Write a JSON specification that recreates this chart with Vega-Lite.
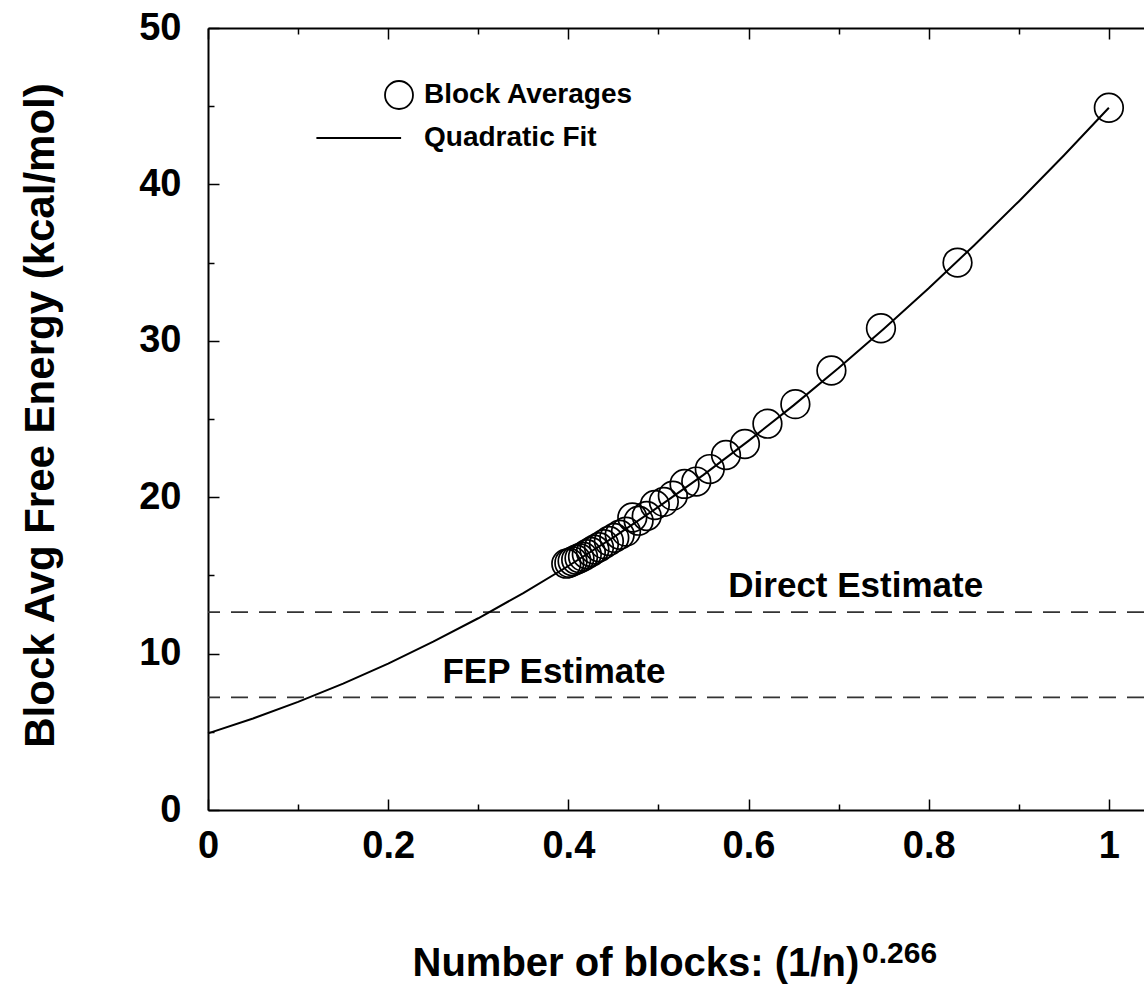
{
  "$schema": "https://vega.github.io/schema/vega-lite/v6.json",
  "width": 936,
  "height": 782,
  "autosize": {"type": "none"},
  "padding": {"left": 208, "top": 28, "right": 0, "bottom": 196},
  "background": "white",
  "config": {"view": {"stroke": null}, "font": "Liberation Sans"},
  "datasets": {
    "estimates": [
      {"name": "Direct Estimate", "y": 12.65},
      {"name": "FEP Estimate", "y": 7.2}
    ],
    "notes": [
      {"text": "Direct Estimate", "x": 0.719, "y": 13.6},
      {"text": "FEP Estimate", "x": 0.384, "y": 8.1}
    ],
    "sup": [
      {"text": "0.266", "x": 0.726, "y": -9.8}
    ],
    "fit": [
      {"x": 0.0, "y": 4.9}, {"x": 0.05, "y": 5.85}, {"x": 0.1, "y": 6.91}, {"x": 0.15, "y": 8.08},
      {"x": 0.2, "y": 9.36}, {"x": 0.25, "y": 10.76}, {"x": 0.3, "y": 12.26}, {"x": 0.35, "y": 13.87},
      {"x": 0.4, "y": 15.6}, {"x": 0.45, "y": 17.43}, {"x": 0.5, "y": 19.38}, {"x": 0.55, "y": 21.43},
      {"x": 0.6, "y": 23.6}, {"x": 0.65, "y": 25.87}, {"x": 0.7, "y": 28.26}, {"x": 0.75, "y": 30.76},
      {"x": 0.8, "y": 33.36}, {"x": 0.85, "y": 36.08}, {"x": 0.9, "y": 38.91}, {"x": 0.95, "y": 41.85},
      {"x": 1.0, "y": 44.9}
    ],
    "blocks": [
      {"x": 1.0, "y": 44.9}, {"x": 0.832, "y": 35.0}, {"x": 0.747, "y": 30.8}, {"x": 0.692, "y": 28.1},
      {"x": 0.652, "y": 25.95}, {"x": 0.621, "y": 24.7}, {"x": 0.596, "y": 23.4}, {"x": 0.575, "y": 22.7},
      {"x": 0.557, "y": 21.8}, {"x": 0.542, "y": 21.0}, {"x": 0.529, "y": 20.85}, {"x": 0.516, "y": 20.1},
      {"x": 0.506, "y": 19.7}, {"x": 0.496, "y": 19.5}, {"x": 0.487, "y": 18.8}, {"x": 0.478, "y": 18.5},
      {"x": 0.471, "y": 18.7}, {"x": 0.464, "y": 17.8}, {"x": 0.457, "y": 17.6}, {"x": 0.451, "y": 17.4},
      {"x": 0.445, "y": 17.2}, {"x": 0.4395, "y": 17.0}, {"x": 0.434, "y": 16.8}, {"x": 0.429, "y": 16.65},
      {"x": 0.425, "y": 16.5}, {"x": 0.4205, "y": 16.35}, {"x": 0.4163, "y": 16.2}, {"x": 0.4124, "y": 16.1},
      {"x": 0.4087, "y": 16.0}, {"x": 0.4047, "y": 15.9}, {"x": 0.4011, "y": 15.8}, {"x": 0.3977, "y": 15.75}
    ]
  },
  "resolve": {"axis": {"x": "independent"}},
  "encoding": {
    "y": {
      "field": "y", "type": "quantitative",
      "scale": {"domain": [0, 50], "nice": false},
      "axis": {
        "grid": false,
        "values": [0, 5, 10, 15, 20, 25, 30, 35, 40, 45, 50],
        "labelExpr": "datum.value % 10 == 0 ? datum.label : ''",
        "labelFont": "Liberation Sans", "labelFontWeight": "bold", "labelFontSize": 38, "labelColor": "black",
        "labelPadding": 38, "labelFlush": false, "labelOverlap": false,
        "domainColor": "black", "domainWidth": 2, "tickColor": "black", "tickWidth": 1.5,
        "tickSize": {"condition": {"test": "datum.value % 10 == 0", "value": -11}, "value": -6},
        "title": "Block Avg Free Energy (kcal/mol)",
        "titleFont": "Liberation Sans", "titleFontWeight": "bold", "titleFontSize": 42, "titleColor": "black",
        "titleAngle": -90, "titleAlign": "center", "titleBaseline": "middle", "titleX": -168, "titleY": 387
      }
    }
  },
  "layer": [
    {
      "data": {"name": "estimates"},
      "mark": {"type": "rule", "strokeDash": [17, 11], "strokeWidth": 1.6, "color": "#333333"}
    },
    {
      "data": {"name": "fit"},
      "mark": {"type": "line", "color": "black", "strokeWidth": 2},
      "encoding": {
        "x": {
          "field": "x", "type": "quantitative",
          "scale": {"domain": [0, 1.039], "nice": false},
          "axis": {
            "orient": "top", "title": null, "labels": false, "grid": false,
            "values": [0, 0.1, 0.2, 0.3, 0.4, 0.5, 0.6, 0.7, 0.8, 0.9, 1.0],
            "domainColor": "black", "domainWidth": 2, "tickColor": "black", "tickWidth": 1.5,
            "tickSize": {"condition": {"test": "round(datum.value*10) % 2 == 0", "value": -11}, "value": -6}
          }
        }
      }
    },
    {
      "data": {"name": "blocks"},
      "mark": {"type": "point", "filled": false, "size": 820, "color": "black", "strokeWidth": 1.7, "opacity": 1},
      "encoding": {
        "x": {
          "field": "x", "type": "quantitative",
          "scale": {"domain": [0, 1.039], "nice": false},
          "axis": {
            "orient": "bottom", "grid": false,
            "values": [0, 0.1, 0.2, 0.3, 0.4, 0.5, 0.6, 0.7, 0.8, 0.9, 1.0],
            "labelExpr": "round(datum.value*10) % 2 == 0 ? format(datum.value, '~g') : ''",
            "labelFont": "Liberation Sans", "labelFontWeight": "bold", "labelFontSize": 38, "labelColor": "black",
            "labelPadding": 28, "labelFlush": false, "labelOverlap": false,
            "domainColor": "black", "domainWidth": 2, "tickColor": "black", "tickWidth": 1.5,
            "tickSize": {"condition": {"test": "round(datum.value*10) % 2 == 0", "value": -11}, "value": -6},
            "title": "Number of blocks: (1/n)",
            "titleFont": "Liberation Sans", "titleFontWeight": "bold", "titleFontSize": 40, "titleColor": "black",
            "titleAlign": "left", "titleX": 204, "titleBaseline": "alphabetic", "titleY": 165
          }
        },
        "shape": {
          "datum": "Block Averages",
          "scale": {"domain": ["Block Averages", "Quadratic Fit"], "range": ["circle", "M-5.9,0H0.15"]},
          "legend": {
            "orient": "none", "legendX": 176, "legendY": 52, "title": null, "padding": 0,
            "labelFont": "Liberation Sans", "labelFontWeight": "bold", "labelFontSize": 28, "labelColor": "black",
            "labelLimit": 500,
            "symbolSize": 784, "symbolStrokeColor": "black", "symbolFillColor": "transparent",
            "symbolStrokeWidth": 1.8, "symbolOpacity": 1, "rowPadding": 10, "labelOffset": 10
          }
        }
      }
    },
    {
      "data": {"name": "notes"},
      "mark": {"type": "text", "font": "Liberation Sans", "fontWeight": "bold", "fontSize": 35, "baseline": "alphabetic", "align": "center", "color": "black"},
      "encoding": {
        "x": {"field": "x", "type": "quantitative", "scale": {"domain": [0, 1.039], "nice": false}, "axis": null},
        "text": {"field": "text"}
      }
    },
    {
      "data": {"name": "sup"},
      "mark": {"type": "text", "font": "Liberation Sans", "fontWeight": "bold", "fontSize": 30, "baseline": "alphabetic", "align": "left", "color": "black", "clip": false},
      "encoding": {
        "x": {"field": "x", "type": "quantitative", "scale": {"domain": [0, 1.039], "nice": false}, "axis": null},
        "text": {"field": "text"}
      }
    }
  ]
}
